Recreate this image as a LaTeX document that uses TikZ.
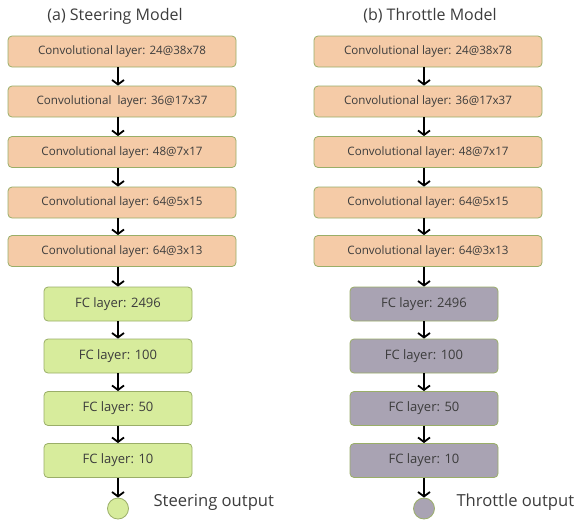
\documentclass[tikz,border=0pt]{standalone}
\usepackage{fontspec}
\setmainfont{Open Sans}
\usetikzlibrary{arrows.meta}
\definecolor{convfill}{HTML}{F5CBA7}
\definecolor{boxline}{HTML}{9AAE68}
\definecolor{steerfill}{HTML}{D7EC9C}
\definecolor{throtfill}{HTML}{A9A3B3}
\definecolor{labeltext}{HTML}{3C3C3C}
\begin{document}
\begin{tikzpicture}[x=1pt, y=-1pt,
    convbox/.style={rectangle, rounded corners=4pt, draw=boxline, line width=0.8pt, fill=convfill,
                    minimum width=228pt, minimum height=31pt, inner sep=0pt,
                    text=labeltext, font=\fontsize{11.6}{14}\selectfont},
    fcbox/.style={convbox, minimum width=148pt, minimum height=34pt, font=\fontsize{13}{15}\selectfont},
    outnode/.style={circle, draw=boxline, line width=0.8pt, minimum size=21pt, inner sep=0pt},
    flow/.style={-{Straight Barb[length=4.5pt,width=12pt]}, line width=1.8pt, black},
    headline/.style={text=labeltext, font=\fontsize{16}{18}\selectfont},
    outlabel/.style={anchor=west, text=labeltext, font=\fontsize{16.6}{19}\selectfont}]
  \useasboundingbox (0,0) rectangle (580,520);

  % steering model
  \node[headline] (ta) at (115,16) {(a) Steering Model};
  \node[convbox] (a1) at (122,51.5) {Convolutional layer: 24@38x78};
  \node[convbox] (a2) at (122,101.5) {Convolutional\ \ layer: 36@17x37};
  \node[convbox] (a3) at (122,152) {Convolutional layer: 48@7x17};
  \node[convbox] (a4) at (122,202.5) {Convolutional layer: 64@5x15};
  \node[convbox] (a5) at (122,251) {Convolutional layer: 64@3x13};
  \node[fcbox, fill=steerfill] (a6) at (118,304) {FC layer: 2496};
  \node[fcbox, fill=steerfill] (a7) at (118,356) {FC layer: 100};
  \node[fcbox, fill=steerfill] (a8) at (118,408.5) {FC layer: 50};
  \node[fcbox, fill=steerfill] (a9) at (118,460.5) {FC layer: 10};
  \node[outnode, fill=steerfill] (aout) at (118,508.5) {};
  \node[outlabel] (alab) at (150,502) {Steering output};
  \draw[flow] (a1.south -| aout) -- (a2.north -| aout);
  \draw[flow] (a2.south -| aout) -- (a3.north -| aout);
  \draw[flow] (a3.south -| aout) -- (a4.north -| aout);
  \draw[flow] (a4.south -| aout) -- (a5.north -| aout);
  \draw[flow] (a5.south -| aout) -- (a6.north);
  \draw[flow] (a6) -- (a7);
  \draw[flow] (a7) -- (a8);
  \draw[flow] (a8) -- (a9);
  \draw[flow] (a9) -- (aout);

  % throttle model
  \node[headline] (tb) at (430,16) {(b) Throttle Model};
  \node[convbox] (b1) at (428,51.5) {Convolutional layer: 24@38x78};
  \node[convbox] (b2) at (428,101.5) {Convolutional layer: 36@17x37};
  \node[convbox] (b3) at (428,152) {Convolutional layer: 48@7x17};
  \node[convbox] (b4) at (428,202.5) {Convolutional layer: 64@5x15};
  \node[convbox] (b5) at (428,251) {Convolutional layer: 64@3x13};
  \node[fcbox, fill=throtfill] (b6) at (424,304) {FC layer: 2496};
  \node[fcbox, fill=throtfill] (b7) at (424,356) {FC layer: 100};
  \node[fcbox, fill=throtfill] (b8) at (424,408.5) {FC layer: 50};
  \node[fcbox, fill=throtfill] (b9) at (424,460.5) {FC layer: 10};
  \node[outnode, fill=throtfill] (bout) at (424,508.5) {};
  \node[outlabel] (blab) at (453,502) {Throttle output};
  \draw[flow] (b1.south -| bout) -- (b2.north -| bout);
  \draw[flow] (b2.south -| bout) -- (b3.north -| bout);
  \draw[flow] (b3.south -| bout) -- (b4.north -| bout);
  \draw[flow] (b4.south -| bout) -- (b5.north -| bout);
  \draw[flow] (b5.south -| bout) -- (b6.north);
  \draw[flow] (b6) -- (b7);
  \draw[flow] (b7) -- (b8);
  \draw[flow] (b8) -- (b9);
  \draw[flow] (b9) -- (bout);
\end{tikzpicture}
\end{document}
